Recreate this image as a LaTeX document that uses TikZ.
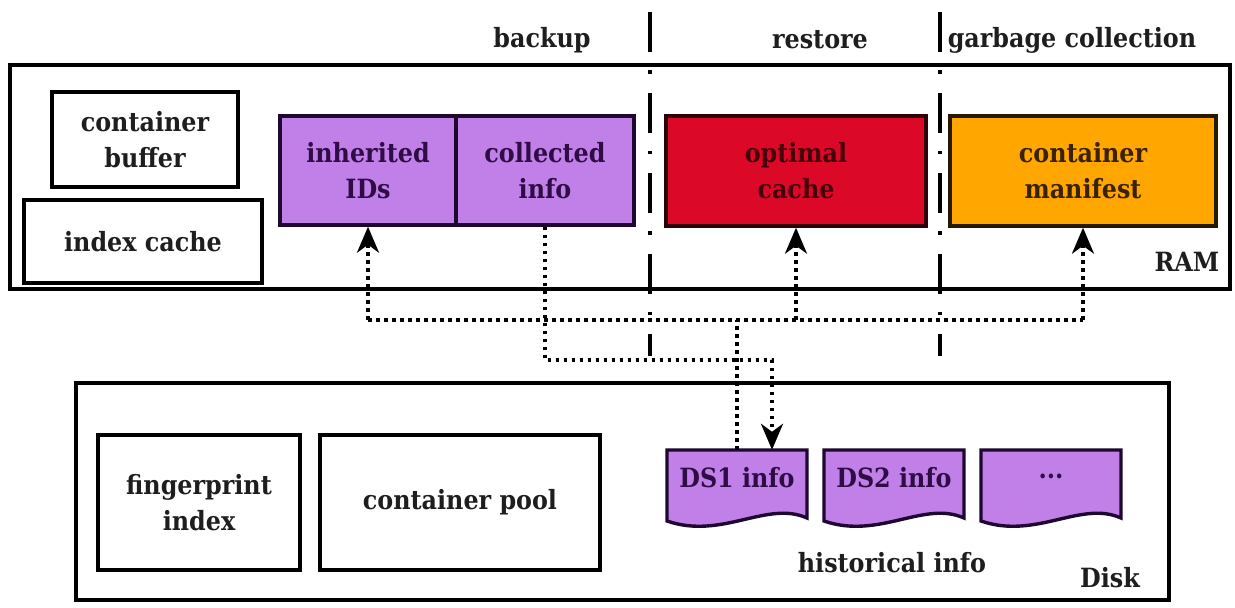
\documentclass[tikz,border=0pt]{standalone}
\usepackage{fontspec}
\setmainfont{DejaVu Serif Condensed}
\usetikzlibrary{arrows.meta,calc}
\definecolor{purp}{RGB}{192,128,232}
\definecolor{purpd}{RGB}{30,8,48}
\definecolor{purpt}{RGB}{48,12,70}
\definecolor{redf}{RGB}{220,8,40}
\definecolor{redt}{RGB}{70,0,10}
\definecolor{orf}{RGB}{255,166,0}
\definecolor{ort}{RGB}{58,34,0}
\definecolor{ink}{RGB}{30,30,30}
\tikzset{
  lbl/.style={font=\fontsize{26.5}{36}\selectfont\bfseries, text=ink, align=center, inner sep=0pt},
  plainbox/.style={draw=black, line width=3.4pt, fill=white, lbl},
  outerbox/.style={draw=black, line width=3.4pt},
  purpbox/.style={draw=purpd, line width=3.4pt, fill=purp, lbl, text=purpt},
  redbox/.style={draw=black!80!redf, line width=3.4pt, fill=redf, lbl, text=redt},
  orbox/.style={draw=black!85!orf, line width=3.4pt, fill=orf, lbl, text=ort},
  docbox/.style={draw=purpd, line width=3.4pt, fill=purp},
  doclbl/.style={lbl, text=purpt, minimum width=140pt, minimum height=68pt},
  sepline/.style={line width=3.4pt, dash pattern=on 40pt off 18pt on 3.5pt off 19pt},
  dotline/.style={line width=3.6pt, dash pattern=on 3.6pt off 4.4pt},
  dotarr/.style={dotline, -{Stealth[length=26pt,width=22pt,inset=8pt]}, shorten >=0pt}
}
\begin{document}
\begin{tikzpicture}[x=1pt,y=-1pt]
\useasboundingbox (0,0) rectangle (1235,608);
\fill[white] (0,0) rectangle (1235,608);

% outer regions
\node[outerbox, minimum width=1220pt, minimum height=224pt, inner sep=0pt] (ram) at (620,177) {};
\node[outerbox, minimum width=1093pt, minimum height=217pt, inner sep=0pt] (disk) at (622.5,491.5) {};

% separators
\draw[sepline] (650,12) -- (650,356);
\draw[sepline] (940,12) -- (940,356);

% headers
\node[lbl] (hbackup) at (542,40) {backup};
\node[lbl] (hrestore) at (820,40) {restore};
\node[lbl] (hgc) at (1072,40) {garbage collection};

% RAM content
\node[plainbox, minimum width=186pt, minimum height=95pt] (cbuf) at (145,139.5) {container\\buffer};
\node[plainbox, minimum width=238pt, minimum height=83pt] (icache) at (143,241.5) {index cache};
\node[purpbox, minimum width=176pt, minimum height=109pt] (inh) at (368,170.5) {inherited\\IDs};
\node[purpbox, minimum width=178pt, minimum height=109pt] (col) at (545,170.5) {collected\\info};
\node[redbox, minimum width=260pt, minimum height=110pt] (opt) at (796,171) {optimal\\cache};
\node[orbox, minimum width=266pt, minimum height=110pt] (man) at (1083,171) {container\\manifest};
\node[lbl] (ramlbl) at (1187,262) {RAM};

% Disk content
\node[plainbox, minimum width=202pt, minimum height=135pt] (fp) at (199,502.5) {fingerprint\\index};
\node[plainbox, minimum width=280pt, minimum height=135pt] (pool) at (460,502.5) {container pool};

\foreach \n/\cx in {ds1/737, ds2/894, ds3/1051}{
  \draw[docbox] (\cx-70,450) -- (\cx+70,450) -- (\cx+70,518)
     .. controls (\cx+30,500) and (\cx-15,540) .. (\cx-70,521) -- cycle;
}
\node[doclbl] (ds1) at (737,484) {};
\node[lbl, text=purpt] (ds1t) at (737,478) {DS1 info};
\node[doclbl] (ds2) at (894,484) {};
\node[lbl, text=purpt] (ds2t) at (894,478) {DS2 info};
\node[doclbl] (ds3) at (1051,484) {};
\node[lbl, text=purpt] (ds3t) at (1051,476) {...};
\node[lbl] (hist) at (892,563) {historical info};
\node[lbl] (disklbl) at (1110,578) {Disk};

% connectors
\coordinate (hl) at (inh.south |- 0,320);
\coordinate (hr) at (man.south |- 0,320);
\coordinate (dsin) at ($(ds1.north)+(35,0)$);
\draw[dotline] (ds1.north) -- (ds1.north |- hl);
\draw[dotline] (hl) -- (hr);
\draw[dotarr] (hl) -- (inh.south);
\draw[dotarr] (opt.south |- hl) -- (opt.south);
\draw[dotarr] (hr) -- (man.south);
\draw[dotarr] (col.south) -- (col.south |- 0,360) -- (dsin |- 0,360) -- (dsin);
\end{tikzpicture}
\end{document}
